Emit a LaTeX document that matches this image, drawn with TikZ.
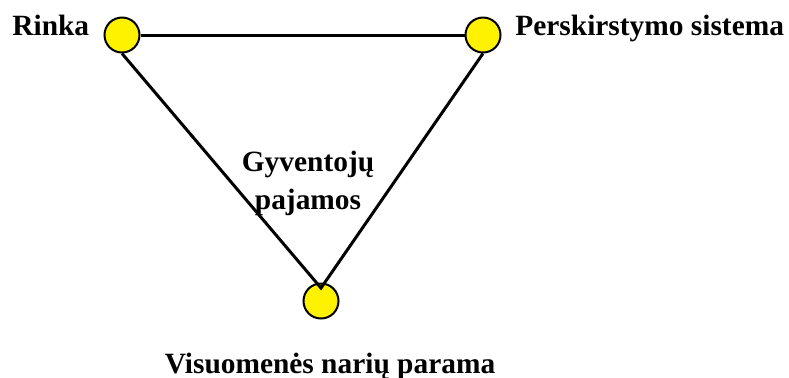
\documentclass[tikz,border=0pt]{standalone}
\usepackage{fontspec}
\setmainfont{Liberation Serif}
\begin{document}
\begin{tikzpicture}[x=0.5pt,y=-0.5pt,
    dot/.style={circle, draw, line width=1pt, fill=yellow, minimum size=17.5pt, inner sep=0pt},
    lbl/.style={font=\fontsize{14.7}{19}\selectfont\bfseries, inner sep=0pt}]
    \useasboundingbox (0,0) rectangle (789,377);

    % circles
    \node[dot] (rinka) at (122,35) {};
    \node[dot] (perskirstymas) at (483,35) {};
    \node[dot] (parama) at (321,301) {};
    \coordinate (tip) at (321,288);

    % triangle
    \draw[line width=1.5pt] (rinka.east) -- (perskirstymas.west);
    \draw[line width=1.5pt] (rinka.south) -- (tip) -- (perskirstymas.south);

    % labels
    \node[lbl, anchor=base west] (rinkalbl) at (12,35) {Rinka};
    \node[lbl, anchor=base west] (sistlbl) at (515,35) {Perskirstymo sistema};
    \node[lbl, align=center] (pajamos) at (308,183) {Gyventojų\\pajamos};
    \node[lbl, anchor=base] (paramalbl) at (330,373) {Visuomenės narių parama};
\end{tikzpicture}
\end{document}
